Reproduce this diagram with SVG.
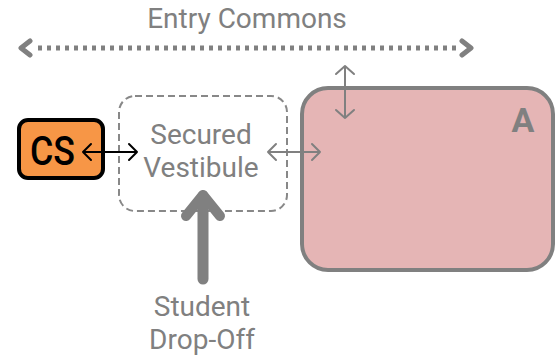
<svg xmlns="http://www.w3.org/2000/svg" width="555" height="359" viewBox="0 0 555 359">
<style>
.lbl{font-family:Roboto,"Liberation Sans",sans-serif;font-size:28px;fill:#808080;text-anchor:middle}
.g{stroke:#808080;fill:none;stroke-linecap:round;stroke-linejoin:round}
</style>
<rect width="555" height="359" fill="#fff"/>
<g id="entry-commons">
<text class="lbl" x="247" y="28">Entry Commons</text>
</g>
<g id="A">
<rect x="302" y="88" width="251" height="182" rx="26" fill="#e5b5b5" stroke="#808080" stroke-width="4"/>
<text x="523" y="132" style="font-family:Roboto,'Liberation Sans',sans-serif;font-size:34px;font-weight:bold;fill:#808080;text-anchor:middle">A</text>
</g>
<g id="vestibule">
<rect x="119" y="96" width="168" height="115" rx="16" fill="none" stroke="#888" stroke-width="2" stroke-dasharray="7,4"/>
<text class="lbl" x="201" y="144">Secured</text>
<text class="lbl" x="201" y="177">Vestibule</text>
</g>
<g id="CS">
<rect x="19" y="120" width="84" height="58" rx="9" fill="#f79646" stroke="#000" stroke-width="4"/>
<text x="30" y="165" textLength="45" lengthAdjust="spacingAndGlyphs" style="font-family:Roboto,'Liberation Sans',sans-serif;font-size:41px;font-weight:500;fill:#000">CS</text>
</g>
<g id="dropoff">
<text class="lbl" x="202" y="316">Student</text>
<text class="lbl" x="202" y="349">Drop-Off</text>
</g>
<g id="connectors">
<line x1="38" y1="48" x2="458" y2="48" stroke="#808080" stroke-width="5" stroke-dasharray="4,5"/>
<path class="g" stroke-width="5" d="M30,41 L21,48 L30,55 M462,41 L471,48 L462,55"/>
<path class="g" stroke-width="2" d="M345,66 V118 M336,74 L345,66 L354,74 M336,110 L345,118 L354,110"/>
<path stroke="#000" fill="none" stroke-width="2" stroke-linecap="round" stroke-linejoin="round" d="M83,152 H137 M91,144 L83,152 L91,160 M129,144 L137,152 L129,160"/>
<path class="g" stroke-width="2" d="M268,152 H320 M276,144 L268,152 L276,160 M312,144 L320,152 L312,160"/>
<path class="g" stroke-width="11" stroke-linecap="butt" d="M203,279 V196"/>
<path class="g" stroke-width="10" d="M186,216 L203,195 L220,216"/>
</g>
</svg>
